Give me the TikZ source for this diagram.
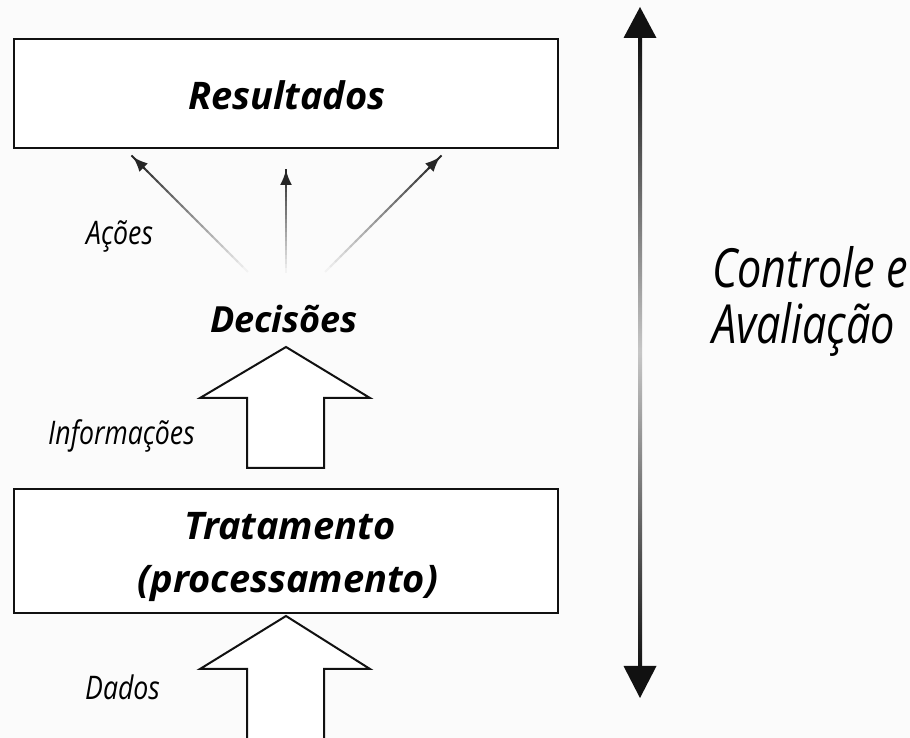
\documentclass[tikz,border=0pt]{standalone}
\usepackage{fontspec}
\setmainfont{Open Sans}
\newfontfamily\headfont{Open Sans}
\newfontfamily\condfont[FakeStretch=0.82]{Open Sans}
\newfontfamily\sidefont[FakeStretch=0.8]{Open Sans}
\usetikzlibrary{arrows.meta,calc}
\definecolor{paper}{HTML}{FBFBFB}
\definecolor{ink}{HTML}{111111}

\begin{document}
\begin{tikzpicture}[x=1pt,y=1pt,
  box/.style={draw=ink, line width=2.4pt, fill=white, inner sep=0pt},
  headtxt/.style={font=\headfont\bfseries\itshape\fontsize{38}{42}\selectfont, inner sep=0pt, anchor=base},
  condtxt/.style={font=\condfont\itshape\fontsize{32.5}{36}\selectfont, inner sep=0pt, anchor=base west},
  sidetxt/.style={font=\sidefont\itshape\fontsize{54}{58}\selectfont, inner sep=0pt, anchor=base west},
  blockarrow/.style={draw=ink, line width=2pt, fill=white, line join=miter},
  tipstyle/.style={draw=black!85, line width=1.8pt, -{Latex[length=15pt,width=12pt]}}
]
% page
\fill[paper] (0,0) rectangle (910,738);
\useasboundingbox (0,0) rectangle (910,738);

% boxes
\node[box, minimum width=544pt, minimum height=109pt] (res) at (286,644.5) {};
\node[headtxt] (restxt) at (287,628) {Resultados};

\node[box, minimum width=544pt, minimum height=124pt] (trat) at (286,187) {};
\node[headtxt] (trattxt) at (290,198) {Tratamento};
\node[headtxt] (proctxt) at (288,145) {(processamento)};

% decisions label
\node[headtxt, font=\headfont\bfseries\itshape\fontsize{36}{40}\selectfont] (dec) at (284,405) {Decisões};

% fading action arrows from the decisions up to the results
\coordinate (d1) at (253,461); \coordinate (r1) at (133,581);
\coordinate (d2) at (286,461); \coordinate (r2) at (286,568);
\coordinate (d3) at (320,461); \coordinate (r3) at (440,581);
\foreach \s/\e in {d1/r1,d2/r2,d3/r3}{
  \foreach \k in {0,...,23}{
    \pgfmathsetmacro\pa{\k/24}
    \pgfmathsetmacro\pb{(\k+1.3)/24}
    \pgfmathsetmacro\pc{85*\k/23}
    \draw[line width=1.8pt, color=black!\pc!paper]
      ($(\s)!\pa!(\e)$) -- ($(\s)!\pb!(\e)$);
  }
  \draw[tipstyle] ($(\s)!0.9!(\e)$) -- (\e);
}
\node[condtxt] (acoes) at (86,493) {Ações};

% block arrow: information
\coordinate (i-tip) at (286,391);
\draw[blockarrow] (i-tip) -- (370,340) -- (324,340) -- (324,270) -- (247,270)
  -- (247,340) -- (200,340) -- cycle;
\node[condtxt] (info) at (48,293) {Informações};

% block arrow: data, open at the bottom edge
\coordinate (dd-tip) at (286,122);
\draw[blockarrow] (247,-4) -- (247,69) -- (200,69) -- (dd-tip) -- (370,69)
  -- (324,69) -- (324,-4);
\node[condtxt] (dados) at (85,38) {Dados};

% control and evaluation double arrow
\coordinate (ctop) at (640,731);
\coordinate (cbot) at (640,40);
\shade[top color=ink, bottom color=ink, middle color=black!22]
  (638,701) rectangle (642,71);
\fill[ink] (ctop) -- (623.5,700) -- (656.5,700) -- cycle;
\fill[ink] (cbot) -- (623.5,72) -- (656.5,72) -- cycle;
\node[sidetxt] (ctrl) at (712,450) {Controle e};
\node[sidetxt] (aval) at (712,394) {Avaliação};
\end{tikzpicture}
\end{document}
